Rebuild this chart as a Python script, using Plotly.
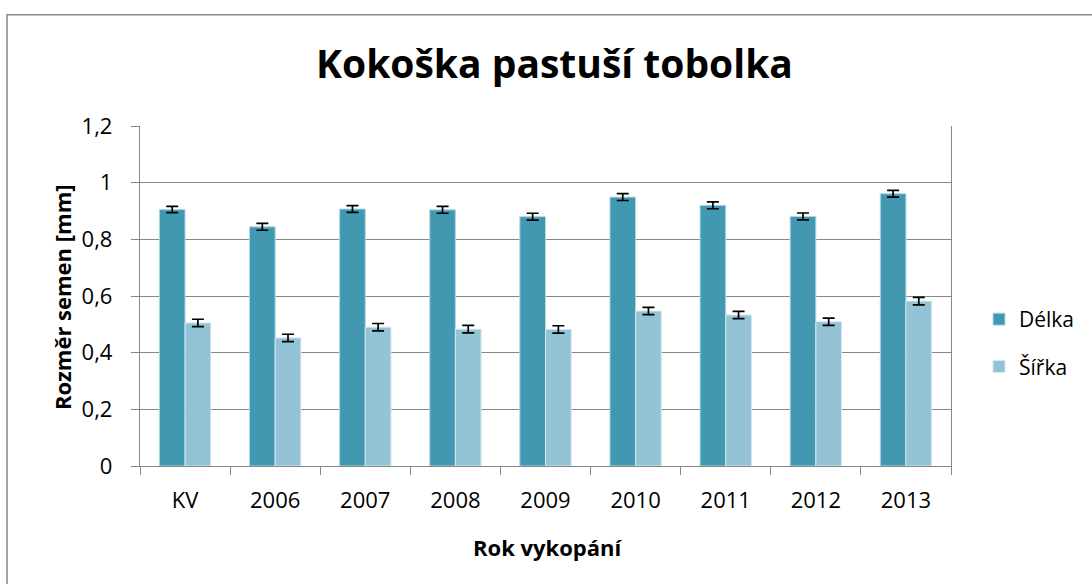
import plotly.graph_objects as go

categories = ["KV", "2006", "2007", "2008", "2009", "2010", "2011", "2012", "2013"]
delka = [0.905, 0.844, 0.907, 0.904, 0.880, 0.949, 0.920, 0.881, 0.961]
delka_err = [0.011, 0.012, 0.012, 0.012, 0.012, 0.012, 0.012, 0.012, 0.012]
sirka = [0.505, 0.452, 0.490, 0.483, 0.482, 0.547, 0.533, 0.509, 0.582]
sirka_err = [0.013, 0.013, 0.013, 0.013, 0.013, 0.013, 0.013, 0.013, 0.013]
y_ticks = [0, 0.2, 0.4, 0.6, 0.8, 1.0, 1.2]
y_tick_text = ["0", "0,2", "0,4", "0,6", "0,8", "1", "1,2"]

FONT = "Open Sans"
GRID = "#878787"

fig = go.Figure()
fig.add_trace(go.Bar(
    name="Délka", x=categories, y=delka, legendgroup="a",
    marker=dict(color="#4398b1", line=dict(color="#b5d8e4", width=1)),
    error_y=dict(type="data", array=delka_err, color="black", thickness=1.7, width=6),
))
fig.add_trace(go.Bar(
    name="Šířka", x=categories, y=sirka, legendgroup="b",
    marker=dict(color="#93c3d5", line=dict(color="#d3e8f0", width=1)),
    error_y=dict(type="data", array=sirka_err, color="black", thickness=1.7, width=6),
))

W, H = 1092, 584
L, R, T, B = 140, 141, 125.5, 117.7
pw, ph = W - L - R, H - T - B

def px_x(px):
    return (px - L) / pw

def px_y(py):
    return (H - B - py) / ph

fig.update_layout(
    width=W, height=H,
    margin=dict(l=L, r=R, t=T, b=B, autoexpand=False),
    paper_bgcolor="white", plot_bgcolor="white",
    font=dict(family=FONT, size=21, color="black"),
    barmode="group", bargap=0.43, bargroupgap=0,
    title=dict(text="<b>Kokoška pastuší tobolka</b>", font=dict(family=FONT, size=39, color="black"),
               x=554.5 / W, xref="container", xanchor="center",
               y=1 - 64 / H, yref="container", yanchor="middle"),
    showlegend=True,
    legend=dict(x=979 / W, xref="container", xanchor="left",
                y=1 - 343 / H, yref="container", yanchor="middle",
                tracegroupgap=17, font=dict(family=FONT, size=21),
                bgcolor="rgba(0,0,0,0)"),
    xaxis=dict(type="category", showgrid=False, showline=True, linecolor=GRID, linewidth=1.3,
               ticks="outside", tickson="boundaries", ticklen=8, tickcolor=GRID, tickwidth=1.3,
               ticklabelstandoff=14, tickfont=dict(family=FONT, size=22), mirror=False),
    yaxis=dict(range=[0, 1.2], tickvals=y_ticks, ticktext=y_tick_text, showgrid=True,
               gridcolor=GRID, gridwidth=1.3, zeroline=False, showline=True, linecolor=GRID,
               linewidth=1.3, mirror=True, ticks="outside", ticklen=8, tickcolor=GRID,
               tickwidth=1.3, ticklabelstandoff=14, tickfont=dict(family=FONT, size=22)),
    shapes=[dict(type="rect", xref="paper", yref="paper",
                 x0=px_x(7), x1=px_x(1110), y0=px_y(600), y1=px_y(14),
                 line=dict(color="#878787", width=1.5), fillcolor="rgba(0,0,0,0)", layer="below")],
    annotations=[
        dict(text="<b>Rozměr semen [mm]</b>", xref="paper", yref="paper", x=px_x(62), y=px_y(297),
             textangle=-90, showarrow=False, xanchor="center", yanchor="middle",
             font=dict(family=FONT, size=22)),
        dict(text="<b>Rok vykopání</b>", xref="paper", yref="paper", x=px_x(547), y=px_y(547),
             showarrow=False, xanchor="center", yanchor="middle",
             font=dict(family=FONT, size=22)),
    ],
)

fig.write_html("out.html", config={"displayModeBar": False},
               post_script="document.body.style.margin='0';document.body.style.overflow='hidden';")
